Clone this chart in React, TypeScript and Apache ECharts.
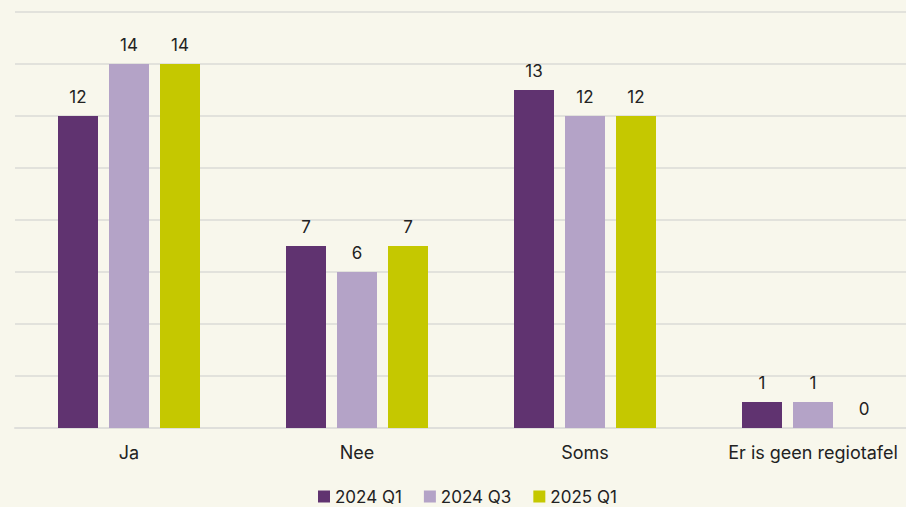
import React, { useEffect, useRef } from "react";
import * as echarts from "echarts";

const categories = ["Ja", "Nee", "Soms", "Er is geen regiotafel"];
const seriesNames = ["2024 Q1", "2024 Q3", "2025 Q1"];
const q1_2024 = [12, 7, 13, 1];
const q3_2024 = [14, 6, 12, 1];
const q1_2025 = [14, 7, 12, 0];
const colors = ["#603370", "#b4a3c7", "#c5c800"];

export default function App() {
  const ref = useRef<HTMLDivElement>(null);
  useEffect(() => {
    if (!ref.current) return;
    const chart = echarts.init(ref.current, undefined, { renderer: "svg" });
    const data = [q1_2024, q3_2024, q1_2025];
    chart.setOption({
      animation: false,
      backgroundColor: "#f8f7ec",
      textStyle: { fontFamily: "Inter, 'Noto Sans', sans-serif" },
      grid: { left: 15, top: 12, width: 912, height: 416, containLabel: false },
      legend: {
        top: 488,
        left: 318,
        padding: 0,
        itemWidth: 12,
        itemHeight: 12,
        itemGap: 22,
        icon: "rect",
        textStyle: { fontSize: 17, color: "#222", fontFamily: "Inter, 'Noto Sans', sans-serif" },
        data: seriesNames,
      },
      xAxis: {
        type: "category",
        data: categories,
        axisLine: { lineStyle: { color: "#dfdfdb", width: 2 } },
        axisTick: { show: false },
        axisLabel: { fontSize: 18, color: "#222", margin: 15 },
      },
      yAxis: {
        type: "value",
        min: 0,
        max: 16,
        interval: 2,
        axisLabel: { show: false },
        axisLine: { show: false },
        axisTick: { show: false },
        splitLine: { lineStyle: { color: "#e2e2dc", width: 2 } },
      },
      series: seriesNames.map((name, i) => ({
        name,
        type: "bar",
        data: data[i],
        barWidth: 40,
        barGap: "27.5%",
        itemStyle: { color: colors[i] },
        label: {
          show: true,
          position: "top",
          distance: 11,
          fontSize: 17,
          color: "#222",
        },
      })),
    });
    return () => chart.dispose();
  }, []);
  return (
    <div style={{ width: 906, height: 507, position: "absolute", left: 0, top: 0, overflow: "hidden" }}>
      <div ref={ref} style={{ width: 940, height: 507 }} />
    </div>
  );
}
